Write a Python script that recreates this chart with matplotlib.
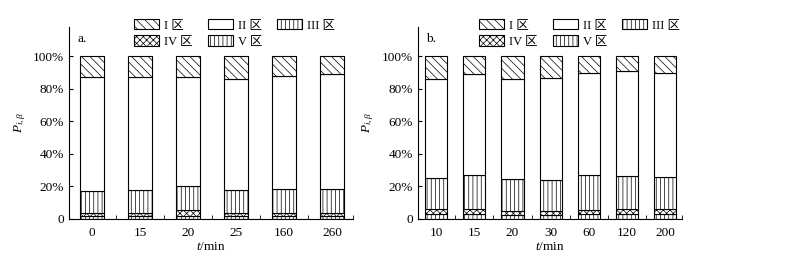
import numpy as np
import matplotlib.pyplot as plt
from matplotlib.ticker import FixedLocator, FuncFormatter

plt.rcParams['font.family'] = ['Liberation Serif', 'Noto Sans CJK SC']
plt.rcParams['hatch.linewidth'] = 0.5
plt.rcParams['hatch.color'] = '#333333'
plt.rcParams['mathtext.fontset'] = 'custom'
plt.rcParams['mathtext.it'] = 'Liberation Serif:italic'
plt.rcParams['mathtext.rm'] = 'Liberation Serif'

# panel a: shares (%) per zone, stacked III, IV, V, II, I from the bottom
t_a = ['0', '15', '20', '25', '160', '260']
zone3_a = [2.0, 2.0, 2.0, 2.0, 2.0, 2.0]
zone4_a = [1.5, 1.5, 3.5, 1.5, 1.5, 1.5]
zone5_a = [13.7, 14.3, 14.5, 14.1, 14.7, 14.7]
zone2_a = [69.8, 69.2, 67.0, 68.4, 69.8, 70.8]
zone1_a = [13.0, 13.0, 13.0, 14.0, 12.0, 11.0]

# panel b
t_b = ['10', '15', '20', '30', '60', '120', '200']
zone3_b = [3.0, 3.0, 2.5, 2.5, 3.0, 3.0, 3.0]
zone4_b = [3.0, 3.0, 2.5, 2.5, 2.5, 3.0, 3.0]
zone5_b = [19.0, 21.0, 19.5, 18.7, 21.5, 20.3, 19.7]
zone2_b = [61.0, 62.0, 61.5, 62.8, 63.0, 64.7, 64.3]
zone1_b = [14.0, 11.0, 14.0, 13.5, 10.0, 9.0, 10.0]

labels = ['I 区', 'II 区', 'III 区', 'IV 区', 'V 区']
hatches = ['\\\\\\\\', '', '||||', 'xxxxx', '||||']

fig = plt.figure(figsize=(7.85, 2.57), dpi=100)
ax_a = fig.add_axes([0.088, 0.148, 0.362, 0.747])
ax_b = fig.add_axes([0.532, 0.148, 0.337, 0.747])


def draw(ax, cats, series, width, tag):
    x = np.arange(len(cats))
    stack_idx = [2, 3, 4, 1, 0]  # III, IV, V, II, I
    bottom = np.zeros(len(cats))
    handles = {}
    for vals, li in zip(series, stack_idx):
        vals = np.array(vals) / 100.0
        b = ax.bar(x, vals, width, bottom=bottom, facecolor='white',
                   edgecolor='black', linewidth=0.8, hatch=hatches[li],
                   label=labels[li])
        handles[li] = b
        bottom += vals
    ax.set_xlim(-0.48, len(cats) - 0.56)
    ax.set_ylim(0, 1.18)
    ax.spines['top'].set_visible(False)
    ax.spines['right'].set_visible(False)
    ax.set_xticks(x)
    ax.set_xticklabels(cats, fontsize=9.5)
    ax.tick_params(axis='x', which='major', length=0, pad=6)
    ax.xaxis.set_minor_locator(FixedLocator(list(np.arange(len(cats) - 1) + 0.5) + [len(cats) - 0.56]))
    ax.tick_params(axis='x', which='minor', direction='in', length=3)
    ax.set_yticks([0, 0.2, 0.4, 0.6, 0.8, 1.0])
    ax.yaxis.set_major_formatter(FuncFormatter(lambda v, p: '0' if v == 0 else '%d%%' % round(v * 100)))
    ax.tick_params(axis='y', direction='in', length=3, labelsize=9.5)
    ax.set_xlabel('$t$/min', fontsize=9.5, labelpad=1)
    ax.set_ylabel(r'$P_{i,\beta}$', fontsize=9.5)
    ax.text(0.03, 0.97, tag, transform=ax.transAxes, fontsize=9.5, va='top')
    hs = [handles[0], handles[3], handles[1], handles[4], handles[2]]
    ls = [labels[0], labels[3], labels[1], labels[4], labels[2]]
    ax.legend(hs, ls, ncol=3, loc='upper left', bbox_to_anchor=(0.19, 1.1),
              frameon=False, fontsize=9, handlelength=2.0, handleheight=0.9,
              columnspacing=1.2, handletextpad=0.4, labelspacing=0.3)


draw(ax_a, t_a, [zone3_a, zone4_a, zone5_a, zone2_a, zone1_a], 0.5, 'a.')
draw(ax_b, t_b, [zone3_b, zone4_b, zone5_b, zone2_b, zone1_b], 0.58, 'b.')

fig.savefig('out.png', dpi=100)
